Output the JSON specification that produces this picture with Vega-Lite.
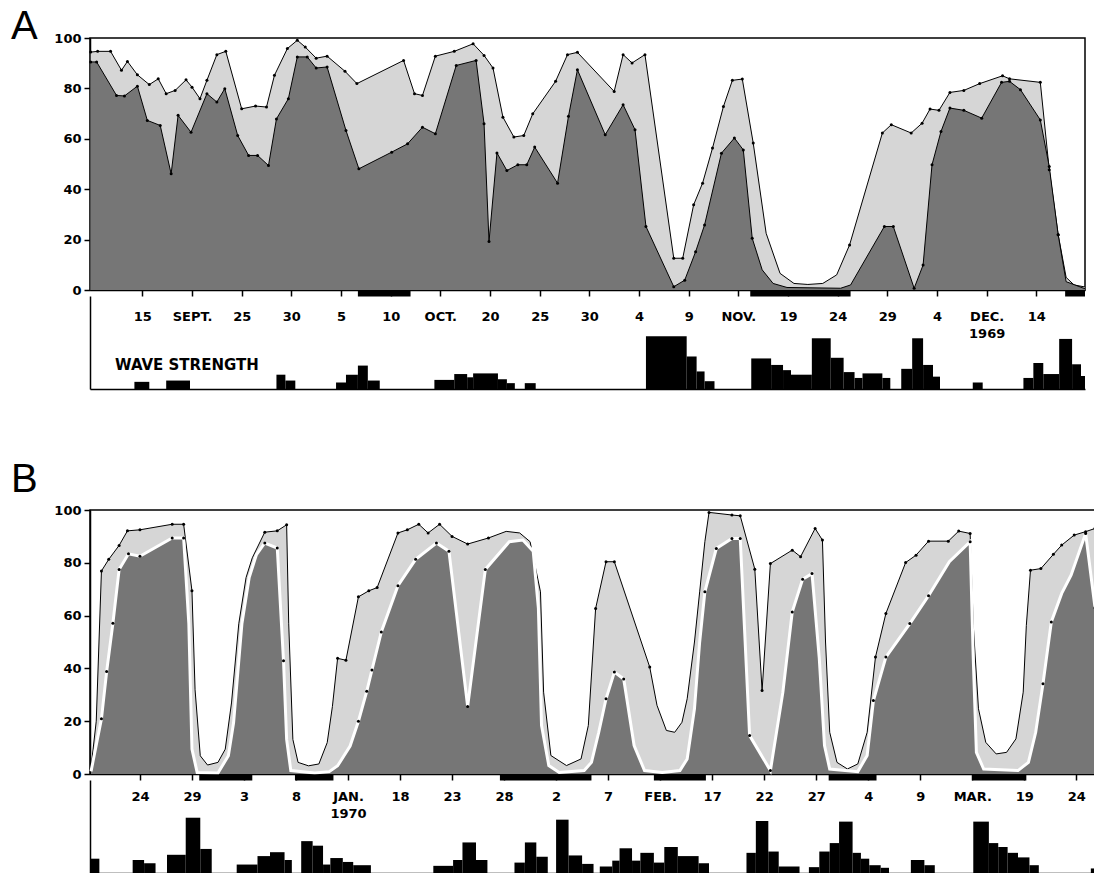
{
  "$schema": "https://vega.github.io/schema/vega-lite/v6.json",
  "autosize": {"type": "pad"},
  "padding": {"left": 10, "top": 6, "right": 0, "bottom": 0},
  "background": "white",
  "config": {
    "view": {"stroke": "black", "strokeWidth": 1.5},
    "axis": {"domainColor": "black", "domainWidth": 1.5, "tickColor": "black", "tickWidth": 1.5, "labelColor": "black", "labelFont": "DejaVu Sans", "labelFontSize": 13, "labelFontWeight": "bold", "grid": false, "labelOverlap": false, "labelFlush": false, "labelBound": false}
  },
  "datasets": {
    "lines": [
      {"p":"A","s":"u","t":9.8,"v":94.4,"o":1},{"p":"A","s":"u","t":10.5,"v":94.7,"o":1},{"p":"A","s":"u","t":11.8,"v":94.7,"o":1},{"p":"A","s":"u","t":12.9,"v":87.2,"o":1},{"p":"A","s":"u","t":13.5,"v":90.7,"o":1},{"p":"A","s":"u","t":14.5,"v":85.4,"o":1},{"p":"A","s":"u","t":15.7,"v":81.5,"o":1},{"p":"A","s":"u","t":16.6,"v":83.8,"o":1},{"p":"A","s":"u","t":17.4,"v":77.9,"o":1},{"p":"A","s":"u","t":18.3,"v":79.2,"o":1},{"p":"A","s":"u","t":19.4,"v":83.4,"o":1},{"p":"A","s":"u","t":20.0,"v":80.5,"o":1},{"p":"A","s":"u","t":20.8,"v":75.9,"o":1},{"p":"A","s":"u","t":21.5,"v":83.2,"o":1},{"p":"A","s":"u","t":22.5,"v":93.4,"o":1},{"p":"A","s":"u","t":23.4,"v":94.7,"o":1},{"p":"A","s":"u","t":25.0,"v":71.9,"o":1},{"p":"A","s":"u","t":26.4,"v":73.0,"o":1},{"p":"A","s":"u","t":27.5,"v":72.6,"o":1},{"p":"A","s":"u","t":28.3,"v":85.2,"o":1},{"p":"A","s":"u","t":29.6,"v":95.8,"o":1},{"p":"A","s":"u","t":30.6,"v":99.1,"o":1},{"p":"A","s":"u","t":31.4,"v":96.4,"o":1},{"p":"A","s":"u","t":32.5,"v":92.0,"o":1},{"p":"A","s":"u","t":33.6,"v":92.8,"o":1},{"p":"A","s":"u","t":35.4,"v":86.8,"o":1},{"p":"A","s":"u","t":36.6,"v":81.9,"o":1},{"p":"A","s":"u","t":41.3,"v":91.1,"o":1},{"p":"A","s":"u","t":42.4,"v":77.9,"o":1},{"p":"A","s":"u","t":43.2,"v":77.2,"o":1},{"p":"A","s":"u","t":44.5,"v":92.8,"o":1},{"p":"A","s":"u","t":46.4,"v":94.7,"o":1},{"p":"A","s":"u","t":48.3,"v":97.7,"o":1},{"p":"A","s":"u","t":49.4,"v":93.1,"o":1},{"p":"A","s":"u","t":50.3,"v":88.1,"o":1},{"p":"A","s":"u","t":51.3,"v":68.6,"o":1},{"p":"A","s":"u","t":52.4,"v":60.7,"o":1},{"p":"A","s":"u","t":53.4,"v":61.3,"o":1},{"p":"A","s":"u","t":54.3,"v":69.9,"o":1},{"p":"A","s":"u","t":56.6,"v":82.8,"o":1},{"p":"A","s":"u","t":57.8,"v":93.4,"o":1},{"p":"A","s":"u","t":58.8,"v":94.3,"o":1},{"p":"A","s":"u","t":62.5,"v":78.8,"o":1},{"p":"A","s":"u","t":63.4,"v":93.4,"o":1},{"p":"A","s":"u","t":64.3,"v":90.1,"o":1},{"p":"A","s":"u","t":65.6,"v":93.4,"o":1},{"p":"A","s":"u","t":68.5,"v":12.6,"o":1},{"p":"A","s":"u","t":69.4,"v":12.6,"o":1},{"p":"A","s":"u","t":70.5,"v":33.8,"o":1},{"p":"A","s":"u","t":71.4,"v":42.4,"o":1},{"p":"A","s":"u","t":72.4,"v":56.3,"o":1},{"p":"A","s":"u","t":73.5,"v":72.8,"o":1},{"p":"A","s":"u","t":74.4,"v":83.2,"o":1},{"p":"A","s":"u","t":75.4,"v":83.7,"o":1},{"p":"A","s":"u","t":76.5,"v":58.3,"o":1},{"p":"A","s":"u","t":77.8,"v":22.5,"o":0},{"p":"A","s":"u","t":79.2,"v":6.6,"o":0},{"p":"A","s":"u","t":80.6,"v":2.6,"o":0},{"p":"A","s":"u","t":82.0,"v":2.2,"o":0},{"p":"A","s":"u","t":83.5,"v":2.6,"o":0},{"p":"A","s":"u","t":84.9,"v":6.0,"o":0},{"p":"A","s":"u","t":86.2,"v":17.9,"o":1},{"p":"A","s":"u","t":89.5,"v":62.3,"o":1},{"p":"A","s":"u","t":90.4,"v":65.6,"o":1},{"p":"A","s":"u","t":92.4,"v":62.3,"o":1},{"p":"A","s":"u","t":93.5,"v":66.2,"o":1},{"p":"A","s":"u","t":94.3,"v":71.8,"o":1},{"p":"A","s":"u","t":95.2,"v":71.3,"o":1},{"p":"A","s":"u","t":96.3,"v":78.4,"o":1},{"p":"A","s":"u","t":97.7,"v":79.2,"o":1},{"p":"A","s":"u","t":99.3,"v":81.9,"o":1},{"p":"A","s":"u","t":101.6,"v":85.0,"o":1},{"p":"A","s":"u","t":102.3,"v":83.8,"o":1},{"p":"A","s":"u","t":105.4,"v":82.4,"o":1},{"p":"A","s":"u","t":106.3,"v":47.7,"o":1},{"p":"A","s":"u","t":107.2,"v":21.9,"o":1},{"p":"A","s":"u","t":108.0,"v":5.0,"o":0},{"p":"A","s":"u","t":108.8,"v":2.0,"o":0},{"p":"A","s":"u","t":109.9,"v":1.2,"o":0},
      {"p":"A","s":"l","t":9.8,"v":90.5,"o":1},{"p":"A","s":"l","t":10.4,"v":90.5,"o":1},{"p":"A","s":"l","t":12.4,"v":77.2,"o":1},{"p":"A","s":"l","t":13.2,"v":77.0,"o":1},{"p":"A","s":"l","t":14.5,"v":80.9,"o":1},{"p":"A","s":"l","t":15.5,"v":67.3,"o":1},{"p":"A","s":"l","t":16.8,"v":65.3,"o":1},{"p":"A","s":"l","t":17.9,"v":46.1,"o":1},{"p":"A","s":"l","t":18.6,"v":69.3,"o":1},{"p":"A","s":"l","t":19.9,"v":62.6,"o":1},{"p":"A","s":"l","t":21.5,"v":77.9,"o":1},{"p":"A","s":"l","t":22.5,"v":74.6,"o":1},{"p":"A","s":"l","t":23.3,"v":79.9,"o":1},{"p":"A","s":"l","t":24.6,"v":61.3,"o":1},{"p":"A","s":"l","t":25.7,"v":53.4,"o":1},{"p":"A","s":"l","t":26.6,"v":53.4,"o":1},{"p":"A","s":"l","t":27.7,"v":49.4,"o":1},{"p":"A","s":"l","t":28.5,"v":67.9,"o":1},{"p":"A","s":"l","t":29.7,"v":75.9,"o":1},{"p":"A","s":"l","t":30.6,"v":92.5,"o":1},{"p":"A","s":"l","t":31.6,"v":92.5,"o":1},{"p":"A","s":"l","t":32.5,"v":88.1,"o":1},{"p":"A","s":"l","t":33.6,"v":88.5,"o":1},{"p":"A","s":"l","t":35.5,"v":63.3,"o":1},{"p":"A","s":"l","t":36.8,"v":48.1,"o":1},{"p":"A","s":"l","t":40.1,"v":54.7,"o":1},{"p":"A","s":"l","t":41.7,"v":58.0,"o":1},{"p":"A","s":"l","t":43.2,"v":64.6,"o":1},{"p":"A","s":"l","t":44.5,"v":62.0,"o":1},{"p":"A","s":"l","t":46.6,"v":89.1,"o":1},{"p":"A","s":"l","t":48.6,"v":91.1,"o":1},{"p":"A","s":"l","t":49.4,"v":66.0,"o":1},{"p":"A","s":"l","t":49.9,"v":19.2,"o":1},{"p":"A","s":"l","t":50.7,"v":54.4,"o":1},{"p":"A","s":"l","t":51.7,"v":47.4,"o":1},{"p":"A","s":"l","t":52.8,"v":49.7,"o":1},{"p":"A","s":"l","t":53.7,"v":49.7,"o":1},{"p":"A","s":"l","t":54.5,"v":56.7,"o":1},{"p":"A","s":"l","t":56.8,"v":42.4,"o":1},{"p":"A","s":"l","t":57.9,"v":68.9,"o":1},{"p":"A","s":"l","t":58.8,"v":87.4,"o":1},{"p":"A","s":"l","t":61.6,"v":61.6,"o":1},{"p":"A","s":"l","t":63.4,"v":73.5,"o":1},{"p":"A","s":"l","t":64.6,"v":63.6,"o":1},{"p":"A","s":"l","t":65.7,"v":25.2,"o":1},{"p":"A","s":"l","t":68.5,"v":1.3,"o":1},{"p":"A","s":"l","t":69.6,"v":3.9,"o":1},{"p":"A","s":"l","t":70.7,"v":15.2,"o":1},{"p":"A","s":"l","t":71.6,"v":25.8,"o":1},{"p":"A","s":"l","t":73.3,"v":54.3,"o":1},{"p":"A","s":"l","t":74.6,"v":60.3,"o":1},{"p":"A","s":"l","t":75.5,"v":55.6,"o":1},{"p":"A","s":"l","t":76.4,"v":20.5,"o":1},{"p":"A","s":"l","t":77.4,"v":8.0,"o":0},{"p":"A","s":"l","t":78.5,"v":2.6,"o":0},{"p":"A","s":"l","t":79.9,"v":1.0,"o":0},{"p":"A","s":"l","t":85.3,"v":0.7,"o":0},{"p":"A","s":"l","t":86.3,"v":2.0,"o":0},{"p":"A","s":"l","t":89.7,"v":25.2,"o":1},{"p":"A","s":"l","t":90.6,"v":25.2,"o":1},{"p":"A","s":"l","t":92.7,"v":0.7,"o":1},{"p":"A","s":"l","t":93.6,"v":9.9,"o":1},{"p":"A","s":"l","t":94.5,"v":49.7,"o":1},{"p":"A","s":"l","t":95.4,"v":62.9,"o":1},{"p":"A","s":"l","t":96.3,"v":72.2,"o":1},{"p":"A","s":"l","t":97.7,"v":71.3,"o":1},{"p":"A","s":"l","t":99.5,"v":68.2,"o":1},{"p":"A","s":"l","t":101.5,"v":82.4,"o":1},{"p":"A","s":"l","t":102.3,"v":82.8,"o":1},{"p":"A","s":"l","t":103.4,"v":79.5,"o":1},{"p":"A","s":"l","t":105.4,"v":67.5,"o":1},{"p":"A","s":"l","t":106.3,"v":49.0,"o":1},{"p":"A","s":"l","t":107.2,"v":21.9,"o":1},{"p":"A","s":"l","t":108.0,"v":3.3,"o":0},{"p":"A","s":"l","t":109.9,"v":0.5,"o":0},
      {"p":"B","s":"u","t":110.3,"v":2.5,"o":0},{"p":"B","s":"u","t":110.8,"v":20.0,"o":0},{"p":"B","s":"u","t":111.3,"v":76.9,"o":1},{"p":"B","s":"u","t":112.0,"v":81.3,"o":1},{"p":"B","s":"u","t":113.0,"v":86.6,"o":1},{"p":"B","s":"u","t":113.8,"v":92.1,"o":1},{"p":"B","s":"u","t":115.0,"v":92.5,"o":1},{"p":"B","s":"u","t":118.1,"v":94.6,"o":1},{"p":"B","s":"u","t":119.2,"v":94.6,"o":1},{"p":"B","s":"u","t":120.0,"v":69.4,"o":1},{"p":"B","s":"u","t":120.3,"v":31.9,"o":0},{"p":"B","s":"u","t":120.8,"v":6.9,"o":0},{"p":"B","s":"u","t":121.5,"v":3.4,"o":0},{"p":"B","s":"u","t":122.5,"v":4.4,"o":0},{"p":"B","s":"u","t":123.2,"v":9.4,"o":0},{"p":"B","s":"u","t":123.8,"v":26.9,"o":0},{"p":"B","s":"u","t":124.5,"v":56.9,"o":0},{"p":"B","s":"u","t":125.2,"v":74.4,"o":0},{"p":"B","s":"u","t":125.8,"v":81.9,"o":0},{"p":"B","s":"u","t":127.0,"v":91.6,"o":1},{"p":"B","s":"u","t":128.2,"v":92.1,"o":1},{"p":"B","s":"u","t":129.1,"v":94.4,"o":1},{"p":"B","s":"u","t":129.3,"v":56.9,"o":0},{"p":"B","s":"u","t":129.7,"v":13.1,"o":0},{"p":"B","s":"u","t":130.2,"v":4.4,"o":0},{"p":"B","s":"u","t":131.2,"v":3.1,"o":0},{"p":"B","s":"u","t":132.2,"v":3.8,"o":0},{"p":"B","s":"u","t":133.0,"v":11.9,"o":0},{"p":"B","s":"u","t":133.5,"v":25.6,"o":0},{"p":"B","s":"u","t":134.0,"v":43.8,"o":1},{"p":"B","s":"u","t":134.8,"v":43.1,"o":1},{"p":"B","s":"u","t":136.0,"v":67.1,"o":1},{"p":"B","s":"u","t":137.0,"v":69.4,"o":1},{"p":"B","s":"u","t":137.8,"v":70.6,"o":1},{"p":"B","s":"u","t":139.8,"v":91.3,"o":1},{"p":"B","s":"u","t":140.7,"v":92.5,"o":1},{"p":"B","s":"u","t":141.8,"v":94.6,"o":1},{"p":"B","s":"u","t":142.7,"v":91.3,"o":1},{"p":"B","s":"u","t":143.8,"v":94.6,"o":1},{"p":"B","s":"u","t":145.0,"v":90.0,"o":1},{"p":"B","s":"u","t":146.5,"v":87.1,"o":1},{"p":"B","s":"u","t":148.5,"v":89.4,"o":1},{"p":"B","s":"u","t":150.2,"v":91.9,"o":0},{"p":"B","s":"u","t":151.5,"v":91.3,"o":0},{"p":"B","s":"u","t":152.5,"v":88.0,"o":0},{"p":"B","s":"u","t":153.5,"v":69.0,"o":0},{"p":"B","s":"u","t":153.8,"v":31.0,"o":0},{"p":"B","s":"u","t":154.5,"v":7.0,"o":0},{"p":"B","s":"u","t":156.0,"v":3.2,"o":0},{"p":"B","s":"u","t":157.4,"v":5.7,"o":0},{"p":"B","s":"u","t":158.1,"v":18.4,"o":0},{"p":"B","s":"u","t":158.8,"v":62.7,"o":1},{"p":"B","s":"u","t":159.8,"v":80.4,"o":1},{"p":"B","s":"u","t":160.6,"v":80.4,"o":1},{"p":"B","s":"u","t":164.0,"v":40.5,"o":1},{"p":"B","s":"u","t":164.7,"v":26.0,"o":0},{"p":"B","s":"u","t":165.6,"v":16.5,"o":0},{"p":"B","s":"u","t":166.4,"v":15.8,"o":0},{"p":"B","s":"u","t":167.1,"v":19.6,"o":0},{"p":"B","s":"u","t":167.6,"v":28.5,"o":0},{"p":"B","s":"u","t":168.3,"v":50.0,"o":0},{"p":"B","s":"u","t":168.8,"v":69.0,"o":0},{"p":"B","s":"u","t":169.3,"v":88.0,"o":0},{"p":"B","s":"u","t":169.7,"v":99.1,"o":1},{"p":"B","s":"u","t":171.9,"v":98.1,"o":1},{"p":"B","s":"u","t":172.7,"v":97.8,"o":1},{"p":"B","s":"u","t":174.1,"v":77.6,"o":1},{"p":"B","s":"u","t":174.8,"v":31.6,"o":1},{"p":"B","s":"u","t":175.6,"v":79.7,"o":1},{"p":"B","s":"u","t":177.7,"v":84.8,"o":1},{"p":"B","s":"u","t":178.5,"v":82.3,"o":1},{"p":"B","s":"u","t":179.9,"v":93.0,"o":1},{"p":"B","s":"u","t":180.6,"v":88.6,"o":1},{"p":"B","s":"u","t":180.9,"v":50.0,"o":0},{"p":"B","s":"u","t":181.3,"v":15.8,"o":0},{"p":"B","s":"u","t":182.0,"v":4.4,"o":0},{"p":"B","s":"u","t":183.0,"v":1.9,"o":0},{"p":"B","s":"u","t":184.0,"v":3.8,"o":0},{"p":"B","s":"u","t":184.9,"v":15.8,"o":0},{"p":"B","s":"u","t":185.7,"v":44.3,"o":1},{"p":"B","s":"u","t":186.7,"v":60.8,"o":1},{"p":"B","s":"u","t":188.6,"v":80.1,"o":1},{"p":"B","s":"u","t":189.6,"v":82.9,"o":1},{"p":"B","s":"u","t":190.8,"v":88.2,"o":1},{"p":"B","s":"u","t":192.7,"v":88.2,"o":1},{"p":"B","s":"u","t":193.7,"v":92.0,"o":1},{"p":"B","s":"u","t":194.8,"v":91.1,"o":1},{"p":"B","s":"u","t":195.1,"v":56.3,"o":0},{"p":"B","s":"u","t":195.6,"v":24.7,"o":0},{"p":"B","s":"u","t":196.3,"v":12.0,"o":0},{"p":"B","s":"u","t":197.3,"v":7.6,"o":0},{"p":"B","s":"u","t":198.3,"v":8.2,"o":0},{"p":"B","s":"u","t":199.2,"v":13.3,"o":0},{"p":"B","s":"u","t":199.9,"v":31.0,"o":0},{"p":"B","s":"u","t":200.2,"v":56.3,"o":0},{"p":"B","s":"u","t":200.6,"v":77.2,"o":1},{"p":"B","s":"u","t":201.6,"v":77.8,"o":1},{"p":"B","s":"u","t":202.8,"v":83.2,"o":1},{"p":"B","s":"u","t":203.6,"v":86.7,"o":1},{"p":"B","s":"u","t":204.8,"v":90.5,"o":1},{"p":"B","s":"u","t":205.9,"v":91.8,"o":1},{"p":"B","s":"u","t":206.8,"v":93.0,"o":1},
      {"p":"B","s":"l","t":110.3,"v":1.0,"o":0},{"p":"B","s":"l","t":111.3,"v":20.9,"o":1},{"p":"B","s":"l","t":111.8,"v":38.8,"o":1},{"p":"B","s":"l","t":112.4,"v":57.1,"o":1},{"p":"B","s":"l","t":113.0,"v":77.5,"o":1},{"p":"B","s":"l","t":113.9,"v":83.4,"o":1},{"p":"B","s":"l","t":115.0,"v":82.5,"o":1},{"p":"B","s":"l","t":118.1,"v":89.4,"o":1},{"p":"B","s":"l","t":119.2,"v":89.4,"o":1},{"p":"B","s":"l","t":119.7,"v":56.9,"o":0},{"p":"B","s":"l","t":120.0,"v":9.4,"o":0},{"p":"B","s":"l","t":120.5,"v":0.6,"o":0},{"p":"B","s":"l","t":122.5,"v":0.4,"o":0},{"p":"B","s":"l","t":123.5,"v":6.9,"o":0},{"p":"B","s":"l","t":124.0,"v":19.4,"o":0},{"p":"B","s":"l","t":124.8,"v":56.9,"o":0},{"p":"B","s":"l","t":125.5,"v":74.4,"o":0},{"p":"B","s":"l","t":126.2,"v":83.1,"o":0},{"p":"B","s":"l","t":127.0,"v":87.5,"o":1},{"p":"B","s":"l","t":128.2,"v":85.6,"o":1},{"p":"B","s":"l","t":128.8,"v":42.9,"o":1},{"p":"B","s":"l","t":129.1,"v":13.1,"o":0},{"p":"B","s":"l","t":129.5,"v":1.3,"o":0},{"p":"B","s":"l","t":131.8,"v":0.4,"o":0},{"p":"B","s":"l","t":133.2,"v":0.9,"o":0},{"p":"B","s":"l","t":134.0,"v":3.1,"o":0},{"p":"B","s":"l","t":135.2,"v":10.6,"o":0},{"p":"B","s":"l","t":136.0,"v":20.0,"o":1},{"p":"B","s":"l","t":136.8,"v":31.3,"o":1},{"p":"B","s":"l","t":137.3,"v":39.4,"o":1},{"p":"B","s":"l","t":138.2,"v":53.8,"o":1},{"p":"B","s":"l","t":139.8,"v":71.3,"o":1},{"p":"B","s":"l","t":141.5,"v":81.3,"o":1},{"p":"B","s":"l","t":143.5,"v":87.5,"o":1},{"p":"B","s":"l","t":144.7,"v":84.4,"o":1},{"p":"B","s":"l","t":146.5,"v":25.6,"o":1},{"p":"B","s":"l","t":148.2,"v":77.5,"o":1},{"p":"B","s":"l","t":150.5,"v":88.0,"o":0},{"p":"B","s":"l","t":151.8,"v":88.6,"o":0},{"p":"B","s":"l","t":152.8,"v":84.4,"o":0},{"p":"B","s":"l","t":153.3,"v":62.7,"o":0},{"p":"B","s":"l","t":153.6,"v":18.4,"o":0},{"p":"B","s":"l","t":154.3,"v":3.2,"o":0},{"p":"B","s":"l","t":155.3,"v":0.6,"o":0},{"p":"B","s":"l","t":157.7,"v":1.3,"o":0},{"p":"B","s":"l","t":158.4,"v":4.4,"o":0},{"p":"B","s":"l","t":159.1,"v":15.8,"o":0},{"p":"B","s":"l","t":159.8,"v":28.5,"o":1},{"p":"B","s":"l","t":160.6,"v":38.6,"o":1},{"p":"B","s":"l","t":161.5,"v":36.0,"o":1},{"p":"B","s":"l","t":162.5,"v":10.8,"o":0},{"p":"B","s":"l","t":163.5,"v":1.3,"o":0},{"p":"B","s":"l","t":165.2,"v":0.6,"o":0},{"p":"B","s":"l","t":166.9,"v":1.3,"o":0},{"p":"B","s":"l","t":167.6,"v":5.7,"o":0},{"p":"B","s":"l","t":168.3,"v":24.7,"o":0},{"p":"B","s":"l","t":168.8,"v":50.0,"o":0},{"p":"B","s":"l","t":169.3,"v":69.0,"o":1},{"p":"B","s":"l","t":170.4,"v":85.4,"o":1},{"p":"B","s":"l","t":171.9,"v":89.2,"o":1},{"p":"B","s":"l","t":172.7,"v":89.2,"o":1},{"p":"B","s":"l","t":173.6,"v":14.6,"o":1},{"p":"B","s":"l","t":175.6,"v":1.3,"o":1},{"p":"B","s":"l","t":176.8,"v":31.0,"o":0},{"p":"B","s":"l","t":177.7,"v":61.4,"o":1},{"p":"B","s":"l","t":178.7,"v":73.8,"o":1},{"p":"B","s":"l","t":179.6,"v":75.9,"o":1},{"p":"B","s":"l","t":180.3,"v":43.7,"o":0},{"p":"B","s":"l","t":180.8,"v":10.8,"o":0},{"p":"B","s":"l","t":181.3,"v":1.9,"o":0},{"p":"B","s":"l","t":184.0,"v":0.9,"o":0},{"p":"B","s":"l","t":184.9,"v":7.0,"o":0},{"p":"B","s":"l","t":185.5,"v":27.8,"o":1},{"p":"B","s":"l","t":186.7,"v":44.3,"o":1},{"p":"B","s":"l","t":189.0,"v":57.0,"o":1},{"p":"B","s":"l","t":190.8,"v":67.5,"o":1},{"p":"B","s":"l","t":192.8,"v":80.4,"o":0},{"p":"B","s":"l","t":194.8,"v":88.0,"o":1},{"p":"B","s":"l","t":195.1,"v":43.7,"o":0},{"p":"B","s":"l","t":195.4,"v":8.2,"o":0},{"p":"B","s":"l","t":196.1,"v":1.9,"o":0},{"p":"B","s":"l","t":199.4,"v":1.3,"o":0},{"p":"B","s":"l","t":200.4,"v":4.4,"o":0},{"p":"B","s":"l","t":201.1,"v":15.8,"o":0},{"p":"B","s":"l","t":201.8,"v":34.2,"o":1},{"p":"B","s":"l","t":202.6,"v":57.6,"o":1},{"p":"B","s":"l","t":203.6,"v":68.4,"o":0},{"p":"B","s":"l","t":204.5,"v":75.3,"o":0},{"p":"B","s":"l","t":205.9,"v":91.1,"o":1},{"p":"B","s":"l","t":206.8,"v":63.0,"o":1}
    ],
    "bars": [
      {"p":"A","t0":36.7,"t1":42.0},{"p":"A","t0":76.2,"t1":86.3},{"p":"A","t0":107.9,"t1":109.9},
      {"p":"B","t0":120.7,"t1":125.8},{"p":"B","t0":129.9,"t1":133.6},{"p":"B","t0":149.6,"t1":158.4},{"p":"B","t0":164.4,"t1":169.4},{"p":"B","t0":181.2,"t1":185.8},{"p":"B","t0":195.0,"t1":200.2}
    ],
    "wave": [
      {"p":"A","t0":14.2,"t1":15.7,"h":1.1},{"p":"A","t0":17.4,"t1":19.8,"h":1.3},{"p":"A","t0":28.5,"t1":29.4,"h":2.2},{"p":"A","t0":29.4,"t1":30.4,"h":1.3},{"p":"A","t0":34.5,"t1":35.5,"h":1.0},{"p":"A","t0":35.5,"t1":36.7,"h":2.2},{"p":"A","t0":36.7,"t1":37.7,"h":3.6},{"p":"A","t0":37.7,"t1":38.9,"h":1.3},
      {"p":"A","t0":44.4,"t1":46.4,"h":1.4},{"p":"A","t0":46.4,"t1":47.7,"h":2.3},{"p":"A","t0":47.7,"t1":48.3,"h":1.8},{"p":"A","t0":48.3,"t1":50.8,"h":2.4},{"p":"A","t0":50.8,"t1":51.7,"h":1.5},{"p":"A","t0":51.7,"t1":52.5,"h":0.9},{"p":"A","t0":53.5,"t1":54.6,"h":0.9},
      {"p":"A","t0":65.7,"t1":69.8,"h":8.1},{"p":"A","t0":69.8,"t1":70.8,"h":5.0},{"p":"A","t0":70.8,"t1":71.6,"h":2.7},{"p":"A","t0":71.6,"t1":72.6,"h":1.2},
      {"p":"A","t0":76.3,"t1":78.3,"h":4.7},{"p":"A","t0":78.3,"t1":79.5,"h":3.7},{"p":"A","t0":79.5,"t1":80.3,"h":2.9},{"p":"A","t0":80.3,"t1":82.4,"h":2.2},{"p":"A","t0":82.4,"t1":84.3,"h":7.8},{"p":"A","t0":84.3,"t1":85.6,"h":4.8},{"p":"A","t0":85.6,"t1":86.7,"h":2.6},{"p":"A","t0":86.7,"t1":87.5,"h":1.7},{"p":"A","t0":87.5,"t1":89.5,"h":2.4},{"p":"A","t0":89.5,"t1":90.3,"h":1.7},
      {"p":"A","t0":91.4,"t1":92.5,"h":3.1},{"p":"A","t0":92.5,"t1":93.6,"h":7.8},{"p":"A","t0":93.6,"t1":94.6,"h":3.7},{"p":"A","t0":94.6,"t1":95.3,"h":1.9},{"p":"A","t0":98.6,"t1":99.6,"h":1.0},
      {"p":"A","t0":103.7,"t1":104.7,"h":1.7},{"p":"A","t0":104.7,"t1":105.7,"h":4.0},{"p":"A","t0":105.7,"t1":107.3,"h":2.3},{"p":"A","t0":107.3,"t1":108.6,"h":7.7},{"p":"A","t0":108.6,"t1":109.5,"h":3.8},{"p":"A","t0":109.5,"t1":109.9,"h":2.0},
      {"p":"B","t0":110.2,"t1":111.1,"h":2.2},{"p":"B","t0":114.3,"t1":115.4,"h":2.0},{"p":"B","t0":115.4,"t1":116.5,"h":1.5},{"p":"B","t0":117.6,"t1":119.4,"h":2.8},{"p":"B","t0":119.4,"t1":120.8,"h":8.5},{"p":"B","t0":120.8,"t1":121.9,"h":3.7},
      {"p":"B","t0":124.3,"t1":126.3,"h":1.3},{"p":"B","t0":126.3,"t1":127.5,"h":2.6},{"p":"B","t0":127.5,"t1":128.9,"h":3.2},{"p":"B","t0":128.9,"t1":129.6,"h":2.0},{"p":"B","t0":130.5,"t1":131.6,"h":4.9},{"p":"B","t0":131.6,"t1":132.6,"h":4.2},{"p":"B","t0":132.6,"t1":133.3,"h":1.3},{"p":"B","t0":133.3,"t1":134.5,"h":2.3},{"p":"B","t0":134.5,"t1":135.5,"h":1.7},{"p":"B","t0":135.5,"t1":137.2,"h":1.2},
      {"p":"B","t0":143.2,"t1":145.1,"h":1.1},{"p":"B","t0":145.1,"t1":146.0,"h":2.0},{"p":"B","t0":146.0,"t1":147.3,"h":4.7},{"p":"B","t0":147.3,"t1":148.4,"h":2.0},{"p":"B","t0":151.0,"t1":152.0,"h":1.6},{"p":"B","t0":152.0,"t1":153.1,"h":4.7},{"p":"B","t0":153.1,"t1":154.2,"h":2.5},
      {"p":"B","t0":155.0,"t1":156.2,"h":8.2},{"p":"B","t0":156.2,"t1":157.5,"h":2.7},{"p":"B","t0":157.5,"t1":158.6,"h":1.4},{"p":"B","t0":159.2,"t1":160.4,"h":1.0},{"p":"B","t0":160.4,"t1":161.1,"h":1.9},{"p":"B","t0":161.1,"t1":162.3,"h":3.8},{"p":"B","t0":162.3,"t1":163.1,"h":1.9},{"p":"B","t0":163.1,"t1":164.4,"h":3.1},{"p":"B","t0":164.4,"t1":165.4,"h":1.6},{"p":"B","t0":165.4,"t1":166.7,"h":4.0},{"p":"B","t0":166.7,"t1":168.7,"h":2.6},{"p":"B","t0":168.7,"t1":169.7,"h":1.5},
      {"p":"B","t0":173.3,"t1":174.2,"h":3.1},{"p":"B","t0":174.2,"t1":175.4,"h":8.0},{"p":"B","t0":175.4,"t1":176.4,"h":3.3},{"p":"B","t0":176.4,"t1":178.4,"h":1.0},{"p":"B","t0":179.3,"t1":180.3,"h":0.9},{"p":"B","t0":180.3,"t1":181.3,"h":3.3},{"p":"B","t0":181.3,"t1":182.2,"h":4.6},{"p":"B","t0":182.2,"t1":183.5,"h":7.9},{"p":"B","t0":183.5,"t1":184.3,"h":3.1},{"p":"B","t0":184.3,"t1":185.1,"h":2.2},{"p":"B","t0":185.1,"t1":186.2,"h":1.2},{"p":"B","t0":186.2,"t1":187.0,"h":0.8},
      {"p":"B","t0":189.1,"t1":190.4,"h":2.0},{"p":"B","t0":190.4,"t1":191.4,"h":1.2},{"p":"B","t0":195.1,"t1":196.6,"h":7.9},{"p":"B","t0":196.6,"t1":197.5,"h":4.6},{"p":"B","t0":197.5,"t1":198.4,"h":4.0},{"p":"B","t0":198.4,"t1":199.4,"h":3.1},{"p":"B","t0":199.4,"t1":200.5,"h":2.4},{"p":"B","t0":200.5,"t1":201.4,"h":1.2},{"p":"B","t0":206.4,"t1":206.8,"h":0.7}
    ]
  },
  "vconcat": [
    {
      "width": 995,
      "height": 252,
      "title": {"text": "A", "anchor": "start", "frame": "group", "font": "Liberation Sans", "fontSize": 40, "fontWeight": "normal", "color": "black", "dx": -79, "offset": -47, "baseline": "alphabetic"},
      "layer": [
        {
          "data": {"name": "lines"},
          "transform": [{"filter": "datum.p == 'A' && datum.s == 'u'"}],
          "mark": {"type": "area", "fill": "#d6d6d6", "opacity": 1, "fillOpacity": 1, "line": {"color": "black", "strokeWidth": 1}},
          "encoding": {
            "x": {"field": "t", "type": "quantitative", "scale": {"domain": [9.73, 109.9], "nice": false, "zero": false},
                  "axis": {"values": [15,20,25,30,35,40,45,50,55,60,65,70,75,80,85,90,95,100,105], "title": null, "tickSize": 6, "labelPadding": 14, "labelLineHeight": 17,
                           "labelExpr": "['15','SEPT.','25','30','5','10','OCT.','20','25','30','4','9','NOV.','19','24','29','4',['DEC.','1969'],'14'][round((datum.value-15)/5)]"}},
            "y": {"field": "v", "type": "quantitative", "stack": null, "scale": {"domain": [0, 100], "nice": false},
                  "axis": {"values": [0,20,40,60,80,100], "title": null, "tickSize": 6, "labelPadding": 3}}
          }
        },
        {
          "data": {"name": "lines"},
          "transform": [{"filter": "datum.p == 'A' && datum.s == 'l'"}],
          "mark": {"type": "area", "fill": "#767676", "opacity": 1, "fillOpacity": 1, "line": {"color": "black", "strokeWidth": 1}},
          "encoding": {
            "x": {"field": "t", "type": "quantitative"},
            "y": {"field": "v", "type": "quantitative", "stack": null}
          }
        },
        {
          "data": {"name": "lines"},
          "transform": [{"filter": "datum.p == 'A' && datum.o == 1"}],
          "mark": {"type": "point", "filled": true, "color": "black", "size": 9, "opacity": 1},
          "encoding": {
            "x": {"field": "t", "type": "quantitative"},
            "y": {"field": "v", "type": "quantitative"}
          }
        },
        {
          "data": {"name": "bars"},
          "transform": [{"filter": "datum.p == 'A'"}],
          "mark": {"type": "rule", "color": "black", "strokeWidth": 6, "yOffset": 3.5, "strokeCap": "butt"},
          "encoding": {
            "x": {"field": "t0", "type": "quantitative"},
            "x2": {"field": "t1"},
            "y": {"datum": 0}
          }
        }
      ]
    },
    {
      "width": 995,
      "height": 93,
      "view": {"stroke": null},
      "layer": [
        {
          "data": {"name": "wave"},
          "transform": [{"filter": "datum.p == 'A'"}],
          "mark": {"type": "rect", "color": "black"},
          "encoding": {
            "x": {"field": "t0", "type": "quantitative", "scale": {"domain": [9.73, 109.9], "nice": false, "zero": false},
                  "axis": {"title": null, "ticks": false, "labels": false, "domain": true}},
            "x2": {"field": "t1"},
            "y": {"field": "h", "type": "quantitative", "scale": {"domain": [0, 14.3], "nice": false},
                  "axis": {"title": null, "ticks": false, "labels": false, "domain": true}},
            "y2": {"datum": 0}
          }
        },
        {
          "data": {"values": [{}]},
          "mark": {"type": "text", "text": "WAVE STRENGTH", "font": "DejaVu Sans", "fontWeight": "bold", "fontSize": 15, "align": "left", "baseline": "alphabetic", "color": "black"},
          "encoding": {
            "x": {"datum": 12.25, "type": "quantitative"},
            "y": {"datum": 2.9, "type": "quantitative"}
          }
        }
      ]
    },
    {
      "width": 995,
      "height": 109,
      "view": {"stroke": null},
      "data": {"values": [{}]},
      "mark": {"type": "point", "opacity": 0},
      "encoding": {}
    },
    {
      "width": 1005,
      "height": 264,
      "title": {"text": "B", "anchor": "start", "frame": "group", "font": "Liberation Sans", "fontSize": 40, "fontWeight": "normal", "color": "black", "dx": -79, "offset": -28, "baseline": "alphabetic"},
      "layer": [
        {
          "data": {"name": "lines"},
          "transform": [{"filter": "datum.p == 'B' && datum.s == 'u'"}],
          "mark": {"type": "area", "fill": "#d6d6d6", "opacity": 1, "fillOpacity": 1, "line": {"color": "black", "strokeWidth": 1}},
          "encoding": {
            "x": {"field": "t", "type": "quantitative", "scale": {"domain": [110.2, 206.8], "nice": false, "zero": false},
                  "axis": {"values": [115,120,125,130,135,140,145,150,155,160,165,170,175,180,185,190,195,200,205], "title": null, "tickSize": 6, "labelPadding": 10, "labelLineHeight": 17,
                           "labelExpr": "['24','29','3','8',['JAN.','1970'],'18','23','28','2','7','FEB.','17','22','27','4','9','MAR.','19','24'][round((datum.value-115)/5)]"}},
            "y": {"field": "v", "type": "quantitative", "stack": null, "scale": {"domain": [0, 100], "nice": false},
                  "axis": {"values": [0,20,40,60,80,100], "title": null, "tickSize": 6, "labelPadding": 3}}
          }
        },
        {
          "data": {"name": "lines"},
          "transform": [{"filter": "datum.p == 'B' && datum.s == 'l'"}],
          "mark": {"type": "area", "fill": "#767676", "opacity": 1, "fillOpacity": 1, "line": {"color": "white", "strokeWidth": 3}},
          "encoding": {
            "x": {"field": "t", "type": "quantitative"},
            "y": {"field": "v", "type": "quantitative", "stack": null}
          }
        },
        {
          "data": {"name": "lines"},
          "transform": [{"filter": "datum.p == 'B' && datum.o == 1"}],
          "mark": {"type": "point", "filled": true, "color": "black", "size": 9, "opacity": 1},
          "encoding": {
            "x": {"field": "t", "type": "quantitative"},
            "y": {"field": "v", "type": "quantitative"}
          }
        },
        {
          "data": {"name": "bars"},
          "transform": [{"filter": "datum.p == 'B'"}],
          "mark": {"type": "rule", "color": "black", "strokeWidth": 6, "yOffset": 3.5, "strokeCap": "butt"},
          "encoding": {
            "x": {"field": "t0", "type": "quantitative"},
            "x2": {"field": "t1"},
            "y": {"datum": 0}
          }
        }
      ]
    },
    {
      "width": 1005,
      "height": 93,
      "view": {"stroke": null},
      "layer": [
        {
          "data": {"name": "wave"},
          "transform": [{"filter": "datum.p == 'B'"}],
          "mark": {"type": "rect", "color": "black"},
          "encoding": {
            "x": {"field": "t0", "type": "quantitative", "scale": {"domain": [110.2, 206.8], "nice": false, "zero": false},
                  "axis": {"title": null, "ticks": false, "labels": false, "domain": true}},
            "x2": {"field": "t1"},
            "y": {"field": "h", "type": "quantitative", "scale": {"domain": [0, 14.3], "nice": false},
                  "axis": {"title": null, "ticks": false, "labels": false, "domain": true}},
            "y2": {"datum": 0}
          }
        }
      ]
    }
  ],
  "spacing": 6,
  "bounds": "flush",
  "resolve": {"scale": {"x": "independent", "y": "independent"}}
}
